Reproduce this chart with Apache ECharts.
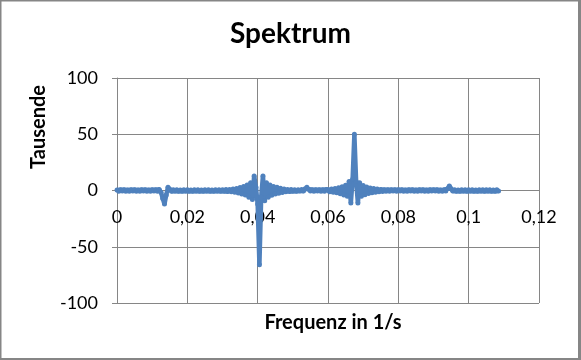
<!DOCTYPE html>
<html><head><meta charset="utf-8">
<script src="https://cdn.jsdelivr.net/npm/echarts@6/dist/echarts.min.js"></script>
<style>html,body{margin:0;padding:0;background:#fff}#c{width:581px;height:360px}</style>
</head><body><div id="c"></div>
<script>
const titleText = "Spektrum";
const xName = "Frequenz in 1/s";
const yName = "Tausende";
const xTicks = [0, 0.02, 0.04, 0.06, 0.08, 0.1, 0.12];
const yTicks = [-100, -50, 0, 50, 100];
const freq = [
0,0.0005,0.001,0.0015,0.002,0.0025,0.003,0.0035,0.004,0.0045,
0.005,0.0055,0.006,0.0065,0.007,0.0075,0.008,0.0085,0.009,0.0095,
0.01,0.0105,0.011,0.0115,0.012,0.0125,0.013,0.0135,0.014,0.0145,
0.015,0.0155,0.016,0.0165,0.017,0.0175,0.018,0.0185,0.019,0.0195,
0.02,0.0205,0.021,0.0215,0.022,0.0225,0.023,0.0235,0.024,0.0245,
0.025,0.0255,0.026,0.0265,0.027,0.0275,0.028,0.0285,0.029,0.0295,
0.03,0.0305,0.031,0.0315,0.032,0.0325,0.033,0.0335,0.034,0.0345,
0.035,0.0355,0.036,0.0365,0.037,0.0375,0.038,0.0385,0.039,0.0395,
0.04,0.0405,0.041,0.0415,0.042,0.0425,0.043,0.0435,0.044,0.0445,
0.045,0.0455,0.046,0.0465,0.047,0.0475,0.048,0.0485,0.049,0.0495,
0.05,0.0505,0.051,0.0515,0.052,0.0525,0.053,0.0535,0.054,0.0545,
0.055,0.0555,0.056,0.0565,0.057,0.0575,0.058,0.0585,0.059,0.0595,
0.06,0.0605,0.061,0.0615,0.062,0.0625,0.063,0.0635,0.064,0.0645,
0.065,0.0655,0.066,0.0665,0.067,0.0675,0.068,0.0685,0.069,0.0695,
0.07,0.0705,0.071,0.0715,0.072,0.0725,0.073,0.0735,0.074,0.0745,
0.075,0.0755,0.076,0.0765,0.077,0.0775,0.078,0.0785,0.079,0.0795,
0.08,0.0805,0.081,0.0815,0.082,0.0825,0.083,0.0835,0.084,0.0845,
0.085,0.0855,0.086,0.0865,0.087,0.0875,0.088,0.0885,0.089,0.0895,
0.09,0.0905,0.091,0.0915,0.092,0.0925,0.093,0.0935,0.094,0.0945,
0.095,0.0955,0.096,0.0965,0.097,0.0975,0.098,0.0985,0.099,0.0995,
0.1,0.1005,0.101,0.1015,0.102,0.1025,0.103,0.1035,0.104,0.1045,
0.105,0.1055,0.106,0.1065,0.107,0.1075,0.108,0.1085
];
const amp = [
0.5,-0.6,0.6,-0.5,0.6,-0.6,0.5,-0.6,0.6,-0.5,
0.6,-0.6,0.5,-0.6,0.6,-0.5,0.6,-0.6,0.5,-0.6,
0.6,-0.5,0.6,-0.7,0.8,-1.5,-7,-12,-4,3,
1.2,-0.6,0.6,-0.5,0.6,-0.6,0.5,-0.6,0.6,-0.5,
0.6,-0.6,0.5,-0.6,0.6,-0.5,0.6,-0.6,0.5,-0.6,
0.6,-0.5,0.6,-0.6,0.5,-0.6,0.6,-0.5,0.6,-0.6,
0.6,-0.6,0.8,-0.9,1,-1.1,1.3,-1.5,1.8,-2.2,
2.6,-3,3.5,-4,5,-6,7,-8,13,3,
-12,-66,-6,13,-9,7,-6,5,-4.2,3.6,
-3.2,2.8,-2.4,2,-1.7,1.4,-1.2,1,-0.9,0.8,
-0.6,0.6,-0.6,0.6,-0.5,0.8,-0.4,1.5,3,1.2,
-0.5,0.6,-0.6,0.6,-0.5,0.6,-0.6,0.6,-0.7,0.8,
0.9,-1.1,1.3,-1.5,1.8,-2.1,2.5,-2.9,3.4,-3.9,
4.6,-5.2,8,-11,10,50,8,-11,7,-5.2,
4.5,-3.8,3.2,-2.7,2.3,-2,1.7,-1.5,1.3,-1.1,
0.9,-0.8,0.7,-0.7,0.6,-0.6,0.6,-0.5,0.6,-0.6,
0.6,-0.5,0.6,-0.6,0.5,-0.6,0.6,-0.5,0.6,-0.6,
0.5,-0.6,0.6,-0.5,0.6,-0.6,0.5,-0.6,0.6,-0.5,
0.6,-0.5,0.6,-0.6,0.5,-0.6,0.7,-0.5,1.5,4,
1.5,-0.5,0.6,-0.6,0.5,-0.6,0.6,-0.5,0.6,-0.6,
0.6,-0.5,0.6,-0.6,0.5,-0.6,0.6,-0.5,0.6,-0.6,
0.6,-0.5,0.6,-0.6,0.5,-0.6,0.6,-0.5
];
const fmt = v => String(parseFloat(Number(v).toFixed(4))).replace('.', ',');
const chart = echarts.init(document.getElementById('c'), null, {renderer: 'canvas'});
const FONT = 'Lato, "Open Sans", sans-serif';
const GRID = {left: 117, right: 42, top: 78, bottom: 57};
const gridH = 360 - GRID.top - GRID.bottom;
chart.setOption({
  animation: false,
  backgroundColor: '#fff',
  title: {text: titleText, left: 'center', top: 15, textStyle: {fontFamily: FONT, fontWeight: 'bold', fontSize: 28, color: '#000'}},
  grid: Object.assign({containLabel: false}, GRID),
  xAxis: {
    type: 'value', min: xTicks[0], max: xTicks[xTicks.length - 1], interval: 0.02,
    position: 'bottom', offset: -gridH / 2,
    axisLine: {onZero: false, lineStyle: {color: '#868686', width: 1}},
    axisTick: {show: true, length: 5, lineStyle: {color: '#868686'}},
    axisLabel: {formatter: fmt, fontFamily: FONT, fontSize: 18, color: '#000', margin: 18},
    splitLine: {show: true, lineStyle: {color: '#868686', width: 1}}
  },
  yAxis: {
    type: 'value', min: yTicks[0], max: yTicks[yTicks.length - 1], interval: 50,
    axisLine: {show: true, lineStyle: {color: '#868686', width: 1}},
    axisTick: {show: true, length: 5, lineStyle: {color: '#868686'}},
    axisLabel: {fontFamily: FONT, fontSize: 18, color: '#000', margin: 19},
    splitLine: {show: true, lineStyle: {color: '#868686', width: 1}}
  },
  graphic: [
    {type: 'rect', left: 0, top: 0, shape: {width: 581, height: 1.5}, style: {fill: '#868686'}, silent: true},
    {type: 'rect', left: 0, top: 0, shape: {width: 1.5, height: 360}, style: {fill: '#868686'}, silent: true},
    {type: 'rect', left: 578, top: 0, shape: {width: 3, height: 360}, style: {fill: '#868686'}, silent: true},
    {type: 'rect', left: 0, top: 358, shape: {width: 581, height: 2}, style: {fill: '#868686'}, silent: true},
    {type: 'text', x: 39, y: 127, rotation: Math.PI / 2, style: {text: yName, fontFamily: FONT, fontWeight: 'bold', fontSize: 20, fill: '#000', align: 'center', verticalAlign: 'middle'}},
    {type: 'text', x: 333, y: 323, style: {text: xName, fontFamily: FONT, fontWeight: 'bold', fontSize: 20, fill: '#000', align: 'center', verticalAlign: 'middle'}}
  ],
  series: [{
    type: 'line',
    data: freq.map((f, i) => [f, amp[i]]),
    symbol: 'circle', symbolSize: 5, showAllSymbol: true,
    lineStyle: {color: '#4F81BD', width: 4.5},
    itemStyle: {color: '#4F81BD'}
  }]
});
</script></body></html>
